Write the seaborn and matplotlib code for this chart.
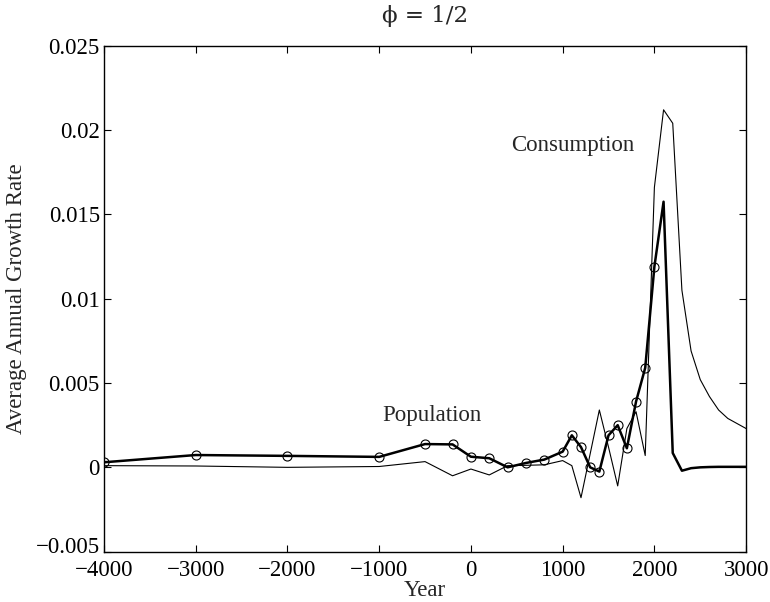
import matplotlib
matplotlib.use("Agg")
import matplotlib.pyplot as plt
import matplotlib.transforms as mtransforms
import seaborn as sns
import pandas as pd

years = [-4000, -3000, -2000, -1000, -500, -200, 0, 200, 400, 600, 800, 1000,
         1100, 1200, 1300, 1400, 1500, 1600, 1700, 1800, 1900, 2000,
         2100, 2200, 2300, 2400, 2500, 2600, 2700, 2800, 2900, 3000]

population = [0.0003, 0.00073, 0.00068, 0.00062, 0.00138, 0.00136, 0.00063,
              0.00054, 0.0, 0.00026, 0.00046, 0.00093, 0.0019, 0.0012, 0.0,
              -0.00025, 0.0019, 0.0025, 0.00113, 0.0039, 0.0059, 0.0119,
              0.01575, 0.00085, -0.0002, -0.00005, 0.0, 0.00002, 0.00003,
              0.00003, 0.00003, 0.00003]

consumption = [0.0001, 0.00008, 0.0, 0.00005, 0.00034, -0.0005, -0.0001,
               -0.00045, 0.0001, 0.00012, 0.00015, 0.0004, 0.0001, -0.0018,
               0.0008, 0.0034, 0.0012, -0.0011, 0.0023, 0.0033, 0.0007,
               0.0166, 0.0212, 0.0204, 0.0105, 0.0069, 0.0052, 0.0042,
               0.0034, 0.0029, 0.0026, 0.0023]

n_observed = 22  # points up to year 2000 carry markers

x_ticks = [-4000, -3000, -2000, -1000, 0, 1000, 2000, 3000]
x_tick_labels = ["\u22124000", "\u22123000", "\u22122000", "\u22121000", "0", "1000", "2000", "3000"]
y_ticks = [-0.005, 0, 0.005, 0.01, 0.015, 0.02, 0.025]
y_tick_labels = ["\u22120.005", "0", "0.005", "0.01", "0.015", "0.02", "0.025"]

title = "\u03d5 = 1/2"
x_label = "Year"
y_label = "Average Annual Growth Rate"

df = pd.DataFrame({"Year": years, "Population": population, "Consumption": consumption})

sns.set_style("ticks")
plt.rcParams["font.family"] = ["Liberation Serif", "DejaVu Serif"]
plt.rcParams["axes.unicode_minus"] = False

FS = 16.5

fig = plt.figure(figsize=(7.7, 6.02), dpi=100)
ax = fig.add_axes([0.135, 0.0836, 0.834, 0.8405])

sns.lineplot(data=df, x="Year", y="Consumption", ax=ax, color="black",
             linewidth=0.8, estimator=None, sort=False)
sns.lineplot(data=df, x="Year", y="Population", ax=ax, color="black",
             linewidth=1.8, estimator=None, sort=False, marker="o",
             markersize=6.5, markerfacecolor="none", markeredgecolor="black",
             markeredgewidth=0.8, markevery=list(range(n_observed)))

ax.set_xlim(-4000, 3000)
ax.set_ylim(-0.005, 0.025)
ax.set_xticks(x_ticks)
ax.set_xticklabels(x_tick_labels)
ax.set_yticks(y_ticks)
ax.set_yticklabels(y_tick_labels)
ax.tick_params(direction="in", length=5, width=0.8, labelsize=FS,
               top=True, right=True, color="black", labelcolor="black")
ax.tick_params(axis="y", pad=3)
ax.tick_params(axis="x", pad=6)
for s in ax.spines.values():
    s.set_linewidth(1.0)
    s.set_color("black")

# nudge the lowest y tick label up slightly so it does not collide with the x labels
lowest = ax.get_yticklabels()[0]
lowest.set_transform(lowest.get_transform() +
                     mtransforms.ScaledTranslation(0, 5 / 72, fig.dpi_scale_trans))

ax.set_xlabel(x_label, fontsize=FS, labelpad=-1)
ax.set_ylabel(y_label, fontsize=FS, labelpad=6)
ax.set_title(title, fontsize=FS, pad=17, family=["DejaVu Serif", "Liberation Serif"])

ax.text(1110, 0.0191, "Consumption", fontsize=FS, ha="center", va="center")
ax.text(-423, 0.0031, "Population", fontsize=FS, ha="center", va="center")

fig.savefig("out.png", dpi=100)
